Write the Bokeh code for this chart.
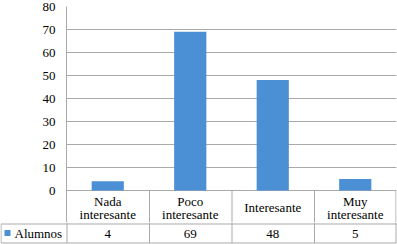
from bokeh.plotting import figure
from bokeh.layouts import column
from bokeh.models import Range1d, FixedTicker
from bokeh.core.properties import value
from bokeh.embed import file_html
from bokeh.resources import INLINE

categories = ["Nada interesante", "Poco interesante", "Interesante", "Muy interesante"]
series_name = "Alumnos"
alumnos = [4, 69, 48, 5]
y_ticks = [0, 10, 20, 30, 40, 50, 60, 70, 80]

BAR = "#4b8fd4"
GRID = "#a9a9a9"
FONT = "Liberation Serif"

W, H = 397, 244
LEFT = 66
TOP = 6
ZERO_PX = 190          # pixel row of the value 0
SPLIT = 222            # pixel row where the data-row figure starts
n = len(categories)
unit = (W - 1 - LEFT) / n             # pixels per category
ppv = (ZERO_PX - TOP) / max(y_ticks)  # pixels per value unit
px = 1 / unit


def py(p):
    """pixel row -> data y of the chart figure"""
    return (ZERO_PX - p) / ppv


def ty(p):
    """pixel row -> data y of the data-row figure"""
    return H - p


xs = [i + 0.5 for i in range(n)]
vx = [i + 0.5 * px for i in range(1, n)] + [n - 0.5 * px]

# ---------------- chart + category header row ----------------
p = figure(width=W, height=SPLIT, output_backend="svg", toolbar_location=None,
           x_range=Range1d(0, n), y_range=Range1d(py(SPLIT), max(y_ticks)),
           x_axis_location=None, frame_align=False,
           min_border_left=LEFT, min_border_right=1, min_border_top=TOP, min_border_bottom=0)
p.outline_line_color = None
p.background_fill_color = "white"
p.border_fill_color = "white"
p.vbar(x=xs, top=alumnos, width=0.39, fill_color=BAR, line_color=None)
p.xgrid.visible = False
p.ygrid.ticker = FixedTicker(ticks=y_ticks)
p.ygrid.grid_line_color = GRID
p.yaxis.ticker = FixedTicker(ticks=y_ticks)
p.yaxis.axis_line_color = GRID
p.yaxis.major_tick_line_color = None
p.yaxis.minor_tick_line_color = None
p.yaxis.major_tick_out = 0
p.yaxis.major_label_standoff = 11
p.yaxis.major_label_text_font = FONT
p.yaxis.major_label_text_font_size = "13px"
p.yaxis.major_label_text_color = "black"
# header row column dividers
p.segment(x0=vx, y0=[0] * len(vx), x1=vx, y1=[py(SPLIT)] * len(vx),
          line_color=GRID, line_width=1)

lx, ly, lt = [], [], []
for i, c in enumerate(categories):
    parts = c.split(" ", 1)
    if len(parts) == 2:
        lx += [xs[i], xs[i]]
        ly += [py(200.5), py(214)]
        lt += parts
    else:
        lx.append(xs[i])
        ly.append(py(207))
        lt.append(c)
p.text(x=lx, y=ly, text=lt, text_font=value(FONT), text_font_size="13px",
       text_align="center", text_baseline="middle", text_color="black")

# ---------------- data row ----------------
x0 = -LEFT / unit
x1 = n + 1 / unit
t = figure(width=W, height=H - SPLIT, output_backend="svg", toolbar_location=None,
           x_range=Range1d(x0, x1), y_range=Range1d(0, H - SPLIT),
           x_axis_location=None, y_axis_location=None, frame_align=False,
           min_border_left=0, min_border_right=0, min_border_top=0, min_border_bottom=0)
t.outline_line_color = None
t.background_fill_color = "white"
t.border_fill_color = "white"
t.grid.visible = False

y_mid = ty(223.5)
y_bot = ty(242.5)
lx0 = x0 + 0.5 * px
# horizontal borders
t.segment(x0=[lx0, lx0], y0=[y_mid, y_bot], x1=[n, n], y1=[y_mid, y_bot],
          line_color=GRID, line_width=1)
# vertical borders
vall = [0.5 * px] + vx
t.segment(x0=vall, y0=[H - SPLIT] * len(vall), x1=vall, y1=[y_bot] * len(vall),
          line_color=GRID, line_width=1)
t.segment(x0=[lx0], y0=[y_mid], x1=[lx0], y1=[y_bot], line_color=GRID, line_width=1)

t.text(x=xs, y=[ty(233)] * n, text=[str(v) for v in alumnos], text_font=value(FONT),
       text_font_size="13px", text_align="center", text_baseline="middle", text_color="black")

# legend key + series name
t.rect(x=[x0 + 7 * px], y=[ty(232.5)], width=6 * px, height=6,
       fill_color=BAR, line_color=None)
t.text(x=[x0 + 14 * px], y=[ty(233)], text=[series_name], text_font=value(FONT),
       text_font_size="13px", text_align="left", text_baseline="middle", text_color="black")

layout = column(p, t, spacing=0)
open("out.html", "w").write(file_html(layout, INLINE))
